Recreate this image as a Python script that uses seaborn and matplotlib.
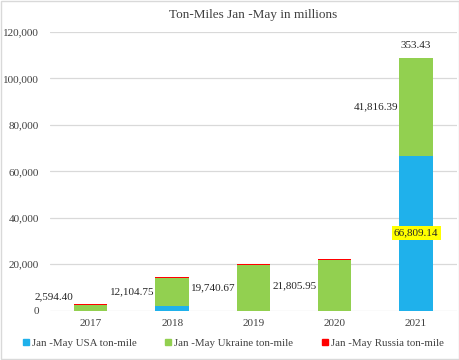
import matplotlib
matplotlib.use("Agg")
import matplotlib.pyplot as plt
import seaborn as sns
import pandas as pd
from matplotlib.patches import Rectangle
from matplotlib.lines import Line2D

years = ["2017", "2018", "2019", "2020", "2021"]
usa = [0, 2100, 0, 0, 66809.14]
ukraine = [2594.40, 12104.75, 19740.67, 21805.95, 41816.39]
russia = [450, 420, 500, 330, 353.43]

series_names = ["Jan -May USA ton-mile", "Jan -May Ukraine ton-mile",
                "Jan -May Russia ton-mile"]
colors = ["#1FB1EB", "#92D050", "#FF0000"]
text_col = "#404040"

df = pd.DataFrame({"year": years, "usa": usa, "ukraine": ukraine,
                   "russia": russia})
df["lvl1"] = df["usa"]
df["lvl2"] = df["usa"] + df["ukraine"]
df["lvl3"] = df["lvl2"] + df["russia"]

sns.set_theme(style="white")
plt.rcParams["font.family"] = ["Liberation Serif", "DejaVu Serif"]

fig = plt.figure(figsize=(4.6, 3.6), dpi=100)
ax = fig.add_axes([0.109, 0.137, 0.884, 0.774])

# stacked bars: draw cumulative totals from the top layer down
for col, c in zip(["lvl3", "lvl2", "lvl1"], colors[::-1]):
    sns.barplot(data=df, x="year", y=col, color=c, width=0.41,
                saturation=1, linewidth=0, ax=ax, zorder=3)

ax.set_ylim(0, 120000)
ax.set_yticks(range(0, 120001, 20000))
ax.set_yticklabels([f"{v:,}" for v in range(0, 120001, 20000)])
ax.grid(axis="y", color="#D9D9D9", linewidth=0.9, zorder=0)
ax.set_axisbelow(True)
for s in ax.spines.values():
    s.set_visible(False)
ax.set_xlabel("")
ax.set_ylabel("")
ax.tick_params(axis="both", length=0, labelsize=8, colors=text_col)
ax.tick_params(axis="y", pad=8)
ax.tick_params(axis="x", pad=6)

ax.set_title("Ton-Miles Jan -May in millions", fontsize=9.5,
             color=text_col, pad=10)

# data labels
for i in range(len(years)):
    mid = usa[i] + ukraine[i] / 2
    ax.text(i - 0.22, max(mid, 6000), f"{ukraine[i]:,.2f}", ha="right",
            va="center", fontsize=8, color="#262626")
ax.text(4, usa[4] / 2, f"{usa[4]:,.2f}", ha="center", va="center",
        fontsize=8, color="#262626",
        bbox=dict(boxstyle="square,pad=0.2", fc="#FFFF00", ec="none"),
        zorder=5)
ax.text(4, df["lvl3"][4] + 3500, f"{russia[4]:,.2f}", ha="center",
        va="bottom", fontsize=8, color="#262626")

handles = [Line2D([0], [0], marker="s", linestyle="", markersize=4.5,
                  markerfacecolor=c, markeredgecolor=c) for c in colors]
fig.legend(handles, series_names, loc="center", ncol=3,
           bbox_to_anchor=(0.505, 0.048), frameon=False, fontsize=7.8,
           handletextpad=0.05, columnspacing=2.4, handlelength=1.0,
           labelcolor=text_col)

fig.patches.append(Rectangle((0.002, 0.003), 0.996, 0.994,
                             transform=fig.transFigure, fill=False,
                             edgecolor="#D9D9D9", linewidth=1))

fig.savefig("out.png", dpi=100)
